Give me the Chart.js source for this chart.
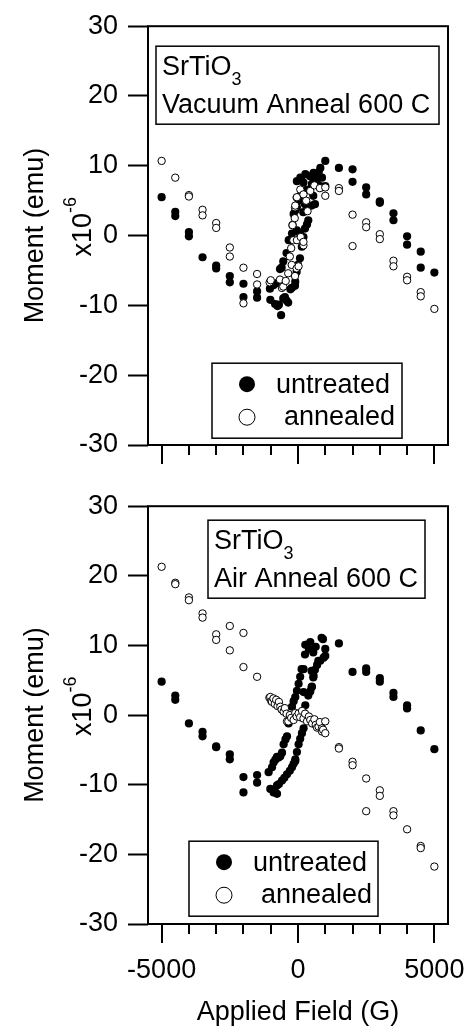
<!DOCTYPE html>
<html>
<head>
<meta charset="utf-8">
<title>SrTiO3 moment vs applied field</title>
<script src="https://cdn.jsdelivr.net/npm/chart.js@4.4.1/dist/chart.umd.min.js"></script>
<style>
  html, body { margin: 0; padding: 0; background: #fff; }
  #wrap { position: relative; width: 468px; height: 1029px; }
  canvas { position: absolute; left: 0; }
  #vac { top: 0; }
  #air { top: 480px; }
</style>
</head>
<body>
<div id="wrap">
  <canvas id="vac" width="468" height="480"></canvas>
  <canvas id="air" width="468" height="549"></canvas>
</div>
<script>
// axis ticks
const FIELD_TICKS = [-5000, -4000, -3000, -2000, -1000, 0, 1000, 2000, 3000, 4000, 5000];
const FIELD_LABELS = [-5000, 0, 5000];

// vacuum anneal panel (x10^-6 emu)
const vacUntreatedField = [
  -5000, -4500, -4500, -4000, -4000, -3500, -3000, -3000, -2500, -2500, -2000, -2000, -1500, -1500,
  -1030, -1015, -900, -840, -770, -750, -700, -620, -540, -480, -420, -360, -280, -230, -110, -100, -50, 0,
  73, 140, 133, 200, 256, 330, 377, 194, 256, 500, 560, 622, 850, 73,
  -660, -600, -540, -420, -340, -280, -220, -200, -160, -100, -40, -40, 30, 85, 150, 330,
  270, 200, 120, -40, 85, 440, 510, 570, 640, 700, 760, 820, 880, 820, 1000, 1000,
  1500, 2000, 2000, 2500, 2500, 3000, 3000, 3500, 3500, 4000, 4000, 4500, 4500, 5000
];
const vacUntreatedMoment = [
  5.5, 3.4, 2.8, 0.5, -0.1, -3.1, -4.3, -4.7, -5.8, -6.7, -6.9, -8.8, -8.0, -8.9,
  -7.6, -9.2, -7.1, -9.8, -6.8, -10.1, -9.9, -11.4, -9.0, -8.8, -9.3, -9.6, -7.7, -7.5, -7.2, -6.6, -5.2, -4.2,
  -3.25, -1.6, -0.4, -0.2, 1.0, 1.6, 2.2, 3.35, 4.5, 4.3, 5.7, 4.5, 6.9, 0.3,
  -4.8, -4.6, -3.7, -2.5, -0.65, -0.6, 0.3, 1.5, 3.1, 3.6, 4.05, 0.75, 5.0, 5.7, 6.3, 6.6,
  8.8, 7.6, 8.0, 7.8, 8.3, 8.5, 7.4, 9.0, 8.2, 8.05, 9.1, 9.7, 8.3, 7.1, 7.1, 10.7,
  9.7, 9.5, 7.7, 6.9, 5.9, 4.9, 4.7, 3.2, 2.2, -0.1, -1.3, -2.3, -4.6, -5.3
];
const vacAnnealedField = [
  -5000, -4500, -4000, -4000, -3500, -3500, -3000, -3000, -2500, -2500, -2000, -2000, -1500, -1500,
  -1040, -1000, -660, -590, -540, -450, -360, -230, -110, -50,
  20, -300, -250, -170, -40, 100, 200, 200, -200, -110,
  -100, -50, -40, 85, 200, 300, 450, 600, 800, 1000,
  1000, -120, 350,
  1500, 1500, 2000, 2000, 2500, 2500, 3000, 3000, 3500, 3500, 4000, 4000, 4500, 4500, 5000
];
const vacAnnealedMoment = [
  10.7, 8.3, 5.8, 5.6, 3.7, 2.9, 1.8, 1.1, -1.7, -3.0, -4.6, -9.7, -5.5, -7.0,
  -6.7, -6.4, -6.3, -7.5, -7.3, -6.5, -5.4, -4.2, -5.8, -4.7,
  -4.4, -3.0, -1.8, -0.66, -0.65, -0.2, -1.4, -0.9, 1.5, 4.05,
  4.3, 5.45, 5.5, 6.6, 5.9, 5.0, 6.4, 7.2, 6.8, 6.9,
  5.7, 2.5, 3.5,
  6.8, 6.4, 3.0, -1.5, 1.9, 1.2, 0.2, -0.5, -3.6, -4.4, -5.9, -6.4, -8.1, -8.7, -10.5
];

// air anneal panel (x10^-6 emu)
const airUntreatedField = [
  -5000, -4500, -4500, -4000, -3500, -3500, -3000, -3000, -2500, -2500, -2000, -2000, -1500, -1500,
  -1077, -952, -894, -830, -770, -710, -648, -586, -527, -460,
  -403, -344, -280, -220, -160, -99, -40, 22, 80, 133,
  205, 256, 267, 315, 400, 450, 560, 650, 744, 817,
  865, 915, 940, 1000, 1000, 700,
  -1015, -894, -831, -769, -769, -700, -586, -500, -403, -300,
  -220, -160, -99, -99, -40, 22, 80, 145, 205, 267,
  220, 205, 377, 450, 510, 500, 560, 571, 500, 620,
  1500, 2000, 2500, 2500, 3000, 3000, 3500, 3500, 4000, 4000, 4500, 5000
];
const airUntreatedMoment = [
  4.8, 2.8, 2.2, -1.2, -2.4, -3.05, -4.5, -4.6, -5.65, -6.35, -8.9, -11.1, -8.6, -9.7,
  -8.2, -7.5, -6.8, -6.4, -6.0, -6.1, -5.9, -5.4, -4.2, -3.5,
  -3.05, -1.2, -0.2, 1.2, 2.0, 2.6, 3.5, 4.5, 5.5, 6.6,
  6.6, 8.7, 10.1, 10.1, 9.5, 10.5, 9.0, 9.8, 7.8, 7.8,
  11.1, 10.9, 8.25, 9.5, 8.5, 7.2,
  -10.6, -11.1, -11.1, -11.3, -10.1, -9.9, -9.4, -9.0, -8.5, -8.0,
  -7.5, -7.0, -6.6, -6.35, -5.3, -4.2, -3.4, -2.6, -1.9, 1.4,
  0.3, 3.3, 2.8, 3.4, 4.1, 4.0, 5.4, 5.65, 6.35, 6.5,
  10.3, 6.2, 6.7, 6.2, 5.3, 4.8, 3.2, 2.6, 1.4, 0.95, -2.2, -4.9
];
const airAnnealedField = [
  -5000, -4500, -4500, -4000, -4000, -3500, -3500, -3000, -3000, -2500, -2500, -2000, -2000, -1500,
  -1050, -1015, -980, -952, -900, -850, -800, -750, -700, -648,
  -600, -527, -480, -420, -403, -355, -300, -250, -161, -100,
  -50, 22, 80, 150, 200, 260, 330, 400, 450, 520,
  600, 650, 700, 755, 800, 879, 879, 920, 1000, 1000,
  1500, 1500, 2000, 2000, 2500, 2500, 3000, 3000, 3500, 3500, 4000, 4500, 4500, 5000
];
const airAnnealedMoment = [
  21.3, 19.0, 18.8, 16.9, 16.5, 14.6, 14.0, 11.6, 10.8, 12.8, 9.3, 11.8, 6.9, 5.5,
  2.5, 2.6, 2.0, 1.9, 2.4, 1.6, 2.2, 1.3, 1.9, 1.2,
  0.8, 0.5, 1.0, 0.2, -0.9, -0.9, 0.0, -0.4, -0.7, 0.3,
  -0.2, 0.24, -0.3, 0.6, -0.5, 0.2, -0.9, -0.2, -0.7, -1.2,
  -0.6, -1.4, -1.8, -1.65, -1.0, -1.9, -2.35, -2.1, -0.9, -2.6,
  -4.6, -4.8, -6.7, -7.2, -9.1, -13.8, -10.8, -11.6, -13.8, -14.4, -16.4, -18.8, -19.1, -21.75
];

const FONT = "'Liberation Sans', Arial, Helvetica, sans-serif";
const FS = 27;
Chart.defaults.font.family = FONT;
Chart.defaults.color = '#000';

function pairs(xs, ys) {
  return xs.map((x, i) => ({ x, y: ys[i] }));
}

// frame, field ticks, x10^-6, note box and legend
const panelDecor = {
  id: 'panelDecor',
  afterDraw(chart, args, o) {
    const { ctx, chartArea: a } = chart;
    const xs = chart.scales.x;
    ctx.save();
    ctx.strokeStyle = '#000';
    ctx.fillStyle = '#000';

    ctx.lineWidth = 2;
    ctx.strokeRect(a.left, a.top, a.right - a.left, a.bottom - a.top);
    FIELD_TICKS.forEach(v => {
      const px = Math.round(xs.getPixelForValue(v));
      const len = FIELD_LABELS.includes(v) ? o.majorTick : o.minorTick;
      ctx.beginPath();
      ctx.moveTo(px, a.bottom);
      ctx.lineTo(px, a.bottom + len);
      ctx.stroke();
    });

    // x10^-6 multiplier next to the y title
    ctx.save();
    ctx.translate(91, (a.top + a.bottom) / 2 + 21);
    ctx.rotate(-Math.PI / 2);
    ctx.textBaseline = 'alphabetic';
    ctx.textAlign = 'left';
    ctx.font = FS + 'px ' + FONT;
    ctx.fillText('x10', 0, 0);
    const w = ctx.measureText('x10').width;
    ctx.font = '18px ' + FONT;
    ctx.fillText('-6', w, -15);
    ctx.restore();

    // note box
    const n = o.note;
    const bx = a.left + n.x, by = a.top + n.y;
    ctx.lineWidth = 1.5;
    ctx.strokeRect(bx, by, n.w, n.h);
    ctx.textAlign = 'left';
    ctx.textBaseline = 'alphabetic';
    ctx.font = FS + 'px ' + FONT;
    ctx.fillText(n.formula, bx + 6, by + 29);
    const fw = ctx.measureText(n.formula).width;
    ctx.font = '18px ' + FONT;
    ctx.fillText(n.sub, bx + 6 + fw, by + 39);
    ctx.font = FS + 'px ' + FONT;
    ctx.fillText(n.text, bx + 6, by + 67);

    // legend
    const l = o.legend;
    const lx = a.left + l.x, ly = a.top + l.y;
    ctx.lineWidth = 1.5;
    ctx.strokeRect(lx, ly, l.w, l.h);
    const ds = chart.data.datasets;
    ctx.beginPath();
    ctx.arc(lx + 35, ly + 21, 8, 0, Math.PI * 2);
    ctx.fill();
    ctx.lineWidth = 1;
    ctx.beginPath();
    ctx.arc(lx + 35, ly + 54, 8, 0, Math.PI * 2);
    ctx.stroke();
    ctx.font = FS + 'px ' + FONT;
    ctx.fillText(ds[0].label, lx + 64, ly + 30);
    ctx.fillText(ds[1].label, lx + 72, ly + 62);

    ctx.restore();
  }
};

function makePanel(id, untreated, annealed, cfg) {
  return new Chart(document.getElementById(id), {
    type: 'scatter',
    data: {
      datasets: [
        { label: 'untreated', data: untreated, order: 1,
          pointRadius: 4.1, pointBackgroundColor: '#000', pointBorderWidth: 0 },
        { label: 'annealed', data: annealed, order: 0,
          pointRadius: 3.7, pointBackgroundColor: '#fff', pointBorderColor: '#000', pointBorderWidth: 1 }
      ]
    },
    options: {
      responsive: false,
      animation: false,
      devicePixelRatio: 1,
      events: [],
      layout: { padding: { top: cfg.padTop, right: 20, left: 0, bottom: 0 } },
      scales: {
        x: {
          type: 'linear', min: -5500, max: 5500,
          afterFit: s => {
            s.height = cfg.xHeight;
            s.paddingLeft = 0;
            s.paddingRight = 0;
          },
          afterBuildTicks: s => { s.ticks = FIELD_TICKS.map(v => ({ value: v })); },
          grid: { display: false, drawTicks: false },
          border: { display: false },
          ticks: {
            display: cfg.showX, autoSkip: false, maxRotation: 0, padding: 30,
            font: { size: FS },
            callback: v => FIELD_LABELS.includes(v) ? String(v) : ''
          },
          title: { display: cfg.showX, text: 'Applied Field (G)', font: { size: FS }, padding: { top: 0, bottom: 0 } }
        },
        y: {
          min: -30, max: 30,
          afterFit: s => { s.width = 148; },
          grid: { drawOnChartArea: false, tickLength: 20, tickWidth: 2, tickColor: '#000' },
          border: { display: false },
          ticks: { stepSize: 10, padding: 10, font: { size: FS } },
          title: { display: true, text: 'Moment (emu)', font: { size: FS }, padding: { top: 19, bottom: 0 } }
        }
      },
      plugins: {
        legend: { display: false },
        tooltip: { enabled: false },
        panelDecor: { majorTick: 19, minorTick: 10, note: cfg.note, legend: cfg.legend }
      }
    },
    plugins: [panelDecor]
  });
}

makePanel('vac',
  pairs(vacUntreatedField, vacUntreatedMoment),
  pairs(vacAnnealedField, vacAnnealedMoment),
  { padTop: 20, xHeight: 35, showX: false,
    note: { formula: 'SrTiO', sub: '3', text: 'Vacuum Anneal 600 C', x: 8, y: 20, w: 283, h: 78 },
    legend: { x: 64, y: 337, w: 190, h: 75 } });

makePanel('air',
  pairs(airUntreatedField, airUntreatedMoment),
  pairs(airAnnealedField, airAnnealedMoment),
  { padTop: 19, xHeight: 105, showX: true,
    note: { formula: 'SrTiO', sub: '3', text: 'Air Anneal 600 C', x: 60, y: 14, w: 217, h: 78 },
    legend: { x: 41, y: 335, w: 189, h: 75 } });
</script>
</body>
</html>
